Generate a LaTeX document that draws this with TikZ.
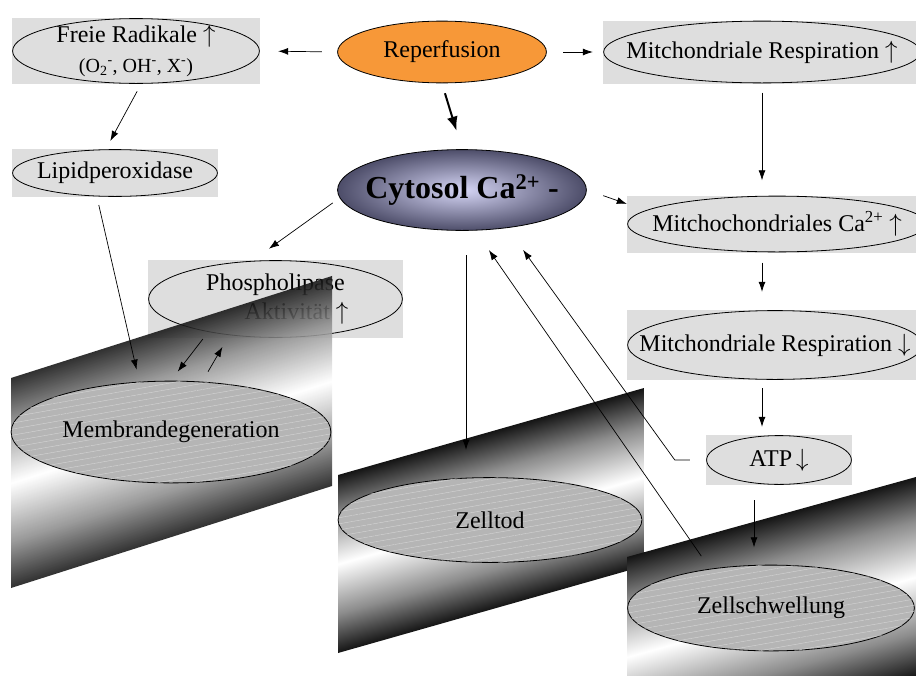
\documentclass[tikz,border=0pt]{standalone}
\usepackage{fontspec}
\setmainfont{Liberation Serif}
\usetikzlibrary{arrows.meta,calc,patterns.meta}

\definecolor{grain}{RGB}{222,222,222}
\definecolor{reporange}{RGB}{247,152,56}
\definecolor{cytedge}{RGB}{76,76,104}
\definecolor{cytcore}{RGB}{214,214,246}

\pgfdeclareverticalshading{tube}{100bp}{color(0bp)=(black!92); color(25bp)=(black!92); color(36bp)=(black!45); color(50bp)=(white); color(64bp)=(black!45); color(75bp)=(black!92); color(100bp)=(black!92)}

\newcommand{\up}{$\uparrow$}
\newcommand{\down}{$\downarrow$}

\tikzset{
  oval/.style={path picture={
      \draw[line width=0.8pt, #1] let \p1=(path picture bounding box.south west),
        \p2=(path picture bounding box.north east) in
        (path picture bounding box.center) ellipse [x radius={(\x2-\x1)/2-0.6pt}, y radius={(\y2-\y1)/2-0.6pt}];}},
  oval/.default={},
  grainbox/.style={rectangle, fill=grain, oval},
  sliced/.style={rectangle, oval={fill=black!29, postaction={pattern={Lines[angle=10,distance=6pt,line width=0.4pt]}, pattern color=black!16}}},
  flow/.style={draw, line width=0.7pt, -{Latex[length=10pt,width=7pt]}},
  heavyflow/.style={draw, line width=2pt, -{Latex[length=14pt,width=11pt]}}
}

\begin{document}
\begin{tikzpicture}[x=1pt, y=-1pt,
    every node/.style={inner sep=0pt, align=center, font=\fontsize{24}{28}\selectfont}
  ]
  \useasboundingbox (0,0) rectangle (916,675);
  \clip (0,0) rectangle (916,675);

  \node (fr)   [grainbox, minimum width=248pt, minimum height=66pt] at (136,51)
    {Freie Radikale \up\\[2pt]{\fontsize{20}{22}\selectfont (O\textsubscript{2}\textsuperscript{-}, OH\textsuperscript{-}, X\textsuperscript{-})}};
  \node (rep)  [rectangle, oval={fill=reporange}, minimum width=210pt, minimum height=63pt] at (442,52) {Reperfusion};
  \node (mr1)  [grainbox, minimum width=318pt, minimum height=63pt] at (762,52) {Mitchondriale Respiration \up};
  \node (lip)  [grainbox, minimum width=206pt, minimum height=48pt] at (115,173) {Lipidperoxidase};
  \node (cyt)  [rectangle, oval={inner color=cytcore, outer color=cytedge}, minimum width=250pt, minimum height=82pt] at (462,190)
    {\bfseries\fontsize{32}{36}\selectfont Cytosol Ca\textsuperscript{2+} -};
  \node (mc)   [grainbox, minimum width=300pt, minimum height=57pt] at (777,224) {Mitchochondriales Ca\textsuperscript{2+} \up};
  \node (plip) [grainbox, minimum width=255pt, minimum height=78pt] at (275.5,299)
    {Phospholipase\\[1pt]\hspace*{42pt}Aktivität \up};
  \node (mr2)  [grainbox, minimum width=296pt, minimum height=70pt] at (775,345) {Mitchondriale Respiration \down};
  \node (atp)  [grainbox, minimum width=146pt, minimum height=50pt] at (779,460) {ATP\,\down};

  % tubes
  \begin{scope}[transform canvas={cm={1,0.3178,0,1,(11,378)}}, opacity=0.88]
    \shade[shading=tube] (0,0) rectangle (321,210);
  \end{scope}
  \begin{scope}[transform canvas={cm={1,0.2843,0,1,(338,475)}}]
    \shade[shading=tube] (0,0) rectangle (306,178);
  \end{scope}
  \begin{scope}[transform canvas={cm={1,0.2768,0,1,(627,557)}}]
    \shade[shading=tube] (0,0) rectangle (300,200);
  \end{scope}

  \node (mem) [sliced, minimum width=321pt, minimum height=103pt] at (171,432) {Membrandegeneration};
  \node (zt)  [sliced, minimum width=305pt, minimum height=86pt]  at (490,520) {Zelltod};
  \node (zs)  [sliced, minimum width=288pt, minimum height=87pt]  at (771,608) {Zellschwellung};

  \draw[flow, shorten <=15pt, shorten >=18pt] (rep.west) -- (fr.east);
  \draw[flow, shorten <=16pt, shorten >=10pt] (rep.east) -- (mr1.west);
  \draw[heavyflow, shorten <=10pt, shorten >=19pt] (rep.south) -- (cyt.north);
  \draw[flow, shorten <=8pt, shorten >=9pt] ([xshift=5pt]fr.south) -- ([xshift=-9pt]lip.north);
  \draw[flow, shorten <=9pt, shorten >=15pt] (mr1.south) -- (mr1.south |- mc.north);
  \draw[flow, shorten <=17pt] (cyt.east) -- ($(mc.north west)!0.3!(mc.west)$);
  \draw[flow, shorten <=10pt, shorten >=18pt] (mc.south -| mr1.south) -- (mr2.north -| mr1.south);
  \draw[flow, shorten <=8pt, shorten >=8pt] (mr2.south -| mr1.south) -- (atp.north -| mr1.south);
  \draw[flow, shorten <=15pt, shorten >=17pt] ([xshift=-25pt]atp.south) -- ([xshift=-25pt]atp.south |- zs.north);
  \draw[flow, shorten >=23pt] ([xshift=-16pt]atp.west) -- ([xshift=-31pt]atp.west) -- ($(cyt.south)!0.38!(cyt.south east)$);
  \draw[flow, shorten <=10pt, shorten >=23pt] ([xshift=-64pt]zs.north) -- ($(cyt.south)!0.11!(cyt.south east)$);
  \draw[flow, shorten <=24pt, shorten >=27pt] ([xshift=4pt]cyt.south) -- ([xshift=4pt]cyt.south |- zt.north);
  \draw[flow, shorten <=5pt, shorten >=19pt] ([yshift=-10pt]cyt.west) -- ([xshift=-22pt]plip.north);
  \draw[flow, shorten <=8pt, shorten >=11pt] ([xshift=-18pt]lip.south) -- ([xshift=-32pt]mem.north);
  \draw[flow, shorten <=1pt, shorten >=11pt] ([xshift=-72pt]plip.south) -- (mem.north);
  \draw[flow, shorten <=10pt, shorten >=10pt] ([xshift=32pt]mem.north) -- ([xshift=-48pt]plip.south);
\end{tikzpicture}
\end{document}
